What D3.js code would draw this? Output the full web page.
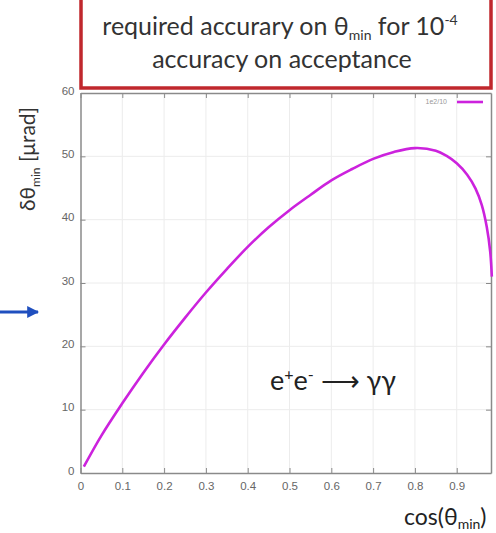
<!DOCTYPE html>
<html>
<head>
<meta charset="utf-8">
<script src="https://d3js.org/d3.v7.min.js"></script>
<style>
  body { margin: 0; background: #fff; }
  svg { display: block; }
</style>
</head>
<body>
<svg id="chart" width="496" height="533"></svg>
<script>
// values
const cosThetaMin = [0.008, 0.05, 0.1, 0.15, 0.2, 0.25, 0.3, 0.35, 0.4, 0.45, 0.5, 0.55, 0.6, 0.65, 0.7, 0.75, 0.8, 0.85, 0.875, 0.9, 0.925, 0.945, 0.96, 0.972, 0.98, 0.984];
const dThetaMin = [1.0, 5.9, 11.0, 15.8, 20.3, 24.5, 28.5, 32.2, 35.7, 38.8, 41.5, 43.9, 46.2, 48.0, 49.6, 50.7, 51.3, 50.9, 50.1, 48.9, 47.1, 44.9, 42.3, 38.8, 35.0, 31.0];
const xTicks = [0, 0.1, 0.2, 0.3, 0.4, 0.5, 0.6, 0.7, 0.8, 0.9];
const yTicks = [0, 10, 20, 30, 40, 50, 60];

const svg = d3.select("#chart");
const pLeft = 80.5, pRight = 491, pTop = 93, pBottom = 473;

const x = d3.scaleLinear().domain([0, 0.982]).range([pLeft, pRight]);
const y = d3.scaleLinear().domain([0, 60]).range([pBottom, pTop]);

// grid
svg.append("g").selectAll("line").data(xTicks.slice(1)).enter().append("line")
  .attr("x1", d => x(d)).attr("x2", d => x(d)).attr("y1", pTop).attr("y2", pBottom)
  .attr("stroke", "#ececec").attr("stroke-width", 1);
svg.append("g").selectAll("line").data(yTicks.slice(1, -1)).enter().append("line")
  .attr("x1", pLeft).attr("x2", pRight).attr("y1", d => y(d)).attr("y2", d => y(d))
  .attr("stroke", "#ececec").attr("stroke-width", 1);

// axes with inner ticks
const tickFont = "Liberation Sans, Arial, sans-serif";
const xAxis = svg.append("g").attr("transform", `translate(0,${pBottom})`)
  .call(d3.axisBottom(x).tickValues(xTicks).tickSizeInner(-5).tickSizeOuter(0).tickPadding(9)
    .tickFormat(d => d === 0 ? "0" : d3.format(".1f")(d)));
const yAxis = svg.append("g").attr("transform", `translate(${pLeft},0)`)
  .call(d3.axisLeft(y).tickValues(yTicks).tickSizeInner(-5).tickSizeOuter(0).tickPadding(6));
svg.append("g").attr("transform", `translate(0,${pTop})`)
  .call(d3.axisTop(x).tickValues(xTicks).tickSizeInner(-5).tickSizeOuter(0).tickFormat(""));
svg.append("g").attr("transform", `translate(${pRight},0)`)
  .call(d3.axisRight(y).tickValues(yTicks).tickSizeInner(-5).tickSizeOuter(0).tickFormat(""));
svg.selectAll(".domain").attr("stroke", "#8a8a8a").attr("stroke-width", 1.5);
svg.selectAll(".tick line").attr("stroke", "#8a8a8a");
svg.selectAll(".tick text").attr("fill", "#666").style("font-family", tickFont).style("font-size", "11.5px");
yAxis.selectAll(".tick text").attr("dy", "0.1em");

// curve
svg.append("path")
  .datum(cosThetaMin.map((c, i) => [c, dThetaMin[i]]))
  .attr("fill", "none")
  .attr("stroke", "#cc22dd")
  .attr("stroke-width", 2.6)
  .attr("d", d3.line().x(d => x(d[0])).y(d => y(d[1])).curve(d3.curveCatmullRom.alpha(0.5)));

// legend
svg.append("text").attr("x", 447).attr("y", 104).attr("text-anchor", "end")
  .attr("fill", "#999").style("font-family", tickFont).style("font-size", "7px").text("1e2/10");
svg.append("line").attr("x1", 457).attr("x2", 483).attr("y1", 102).attr("y2", 102)
  .attr("stroke", "#cc22dd").attr("stroke-width", 2.6);

// title box
const mainFont = "Lato, 'Open Sans', sans-serif";
svg.append("rect").attr("x", 81).attr("y", -4).attr("width", 410).attr("height", 92)
  .attr("fill", "#fff").attr("stroke", "#c0272d").attr("stroke-width", 3.5);
const t1 = svg.append("text").attr("x", 280).attr("y", 35).attr("text-anchor", "middle")
  .attr("fill", "#333").style("font-family", mainFont).style("font-size", "25px");
t1.append("tspan").text("required accurary on θ");
t1.append("tspan").attr("dy", 5).style("font-size", "14px").text("min");
t1.append("tspan").attr("dy", -5).text(" for 10");
t1.append("tspan").attr("dy", -10).style("font-size", "14px").text("-4");
svg.append("text").attr("x", 282).attr("y", 68).attr("text-anchor", "middle")
  .attr("fill", "#333").style("font-family", mainFont).style("font-size", "25px")
  .text("accuracy on acceptance");

// y label
const yl = svg.append("text").attr("transform", "translate(35,159) rotate(-90)")
  .attr("text-anchor", "middle").attr("fill", "#333")
  .style("font-family", mainFont).style("font-size", "21px");
yl.append("tspan").text("δθ");
yl.append("tspan").attr("dy", 5).style("font-size", "12px").text("min");
yl.append("tspan").attr("dy", -5).text(" [μrad]");

// x label
const xl = svg.append("text").attr("x", 404).attr("y", 525)
  .attr("fill", "#222").style("font-family", mainFont).style("font-size", "23px");
xl.append("tspan").text("cos(θ");
xl.append("tspan").attr("dy", 4).style("font-size", "14px").text("min");
xl.append("tspan").attr("dy", -4).text(")");

// process label
const pl = svg.append("text").attr("x", 270).attr("y", 390)
  .attr("fill", "#222").style("font-family", mainFont).style("font-size", "27px");
pl.append("tspan").text("e");
pl.append("tspan").attr("dy", -10).style("font-size", "16px").text("+");
pl.append("tspan").attr("dy", 10).text("e");
pl.append("tspan").attr("dy", -10).style("font-size", "16px").text("-");
pl.append("tspan").attr("dy", 10).text(" ⟶ γγ");

// blue arrow
svg.append("defs").append("marker").attr("id", "ah")
  .attr("viewBox", "0 0 10 10").attr("refX", 9).attr("refY", 5)
  .attr("markerWidth", 4).attr("markerHeight", 4).attr("orient", "auto")
  .append("path").attr("d", "M0,0L10,5L0,10z").attr("fill", "#1f4fbf");
svg.append("line").attr("x1", 0).attr("x2", 38).attr("y1", 312).attr("y2", 312)
  .attr("stroke", "#1f4fbf").attr("stroke-width", 3).attr("marker-end", "url(#ah)");
</script>
</body>
</html>
